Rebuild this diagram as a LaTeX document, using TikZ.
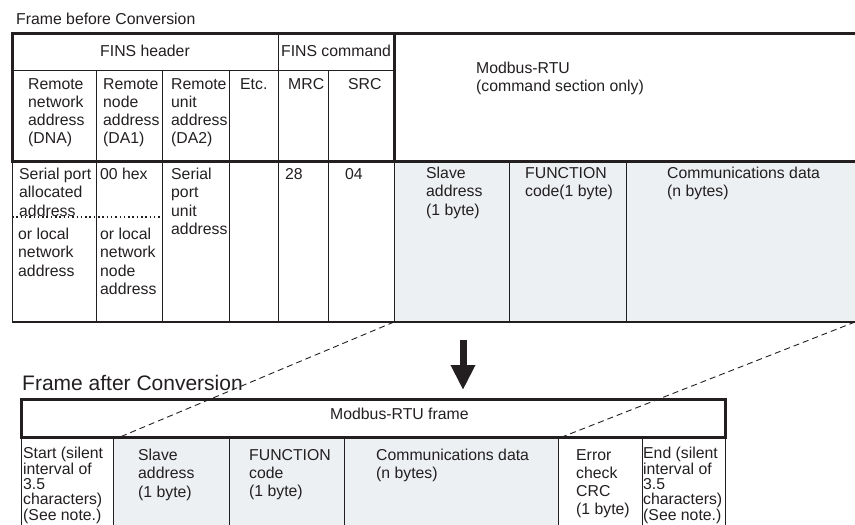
\documentclass[tikz,border=0pt]{standalone}
\usepackage{fontspec}
\setmainfont{Liberation Sans}
\usepackage{tikz}
\usetikzlibrary{arrows.meta}
\definecolor{inkline}{RGB}{35, 31, 32}
\definecolor{cellbg}{RGB}{237, 240, 242}
\tikzset{
  font=\fontsize{15.8}{18.2}\selectfont,
  thickrule/.style={draw=inkline, line width=3pt},
  midrule/.style={draw=inkline, line width=2pt},
  thinrule/.style={draw=inkline, line width=1pt},
  dotrule/.style={draw=inkline, line width=1.2pt, dash pattern=on 1.5pt off 2.8pt},
  mapline/.style={draw=inkline, line width=0.9pt, dash pattern=on 6pt off 4pt},
  cellfill/.style={fill=cellbg, draw=none},
  celltext/.style={anchor=north west, inner sep=0pt, align=left, text=inkline},
  tighttext/.style={celltext, font=\fontsize{15.8}{15.4}\selectfont},
  headtext/.style={anchor=center, inner sep=0pt, align=center, text=inkline},
  titletext/.style={anchor=north west, inner sep=0pt, text=inkline},
  bigarrow/.style={draw=inkline, line width=7pt, -{Triangle[width=23pt, length=25pt]}}
}

\begin{document}
\begin{tikzpicture}[x=1pt, y=-1pt, line join=miter]
  \useasboundingbox (0,0) rectangle (855,525);

  % Frame before conversion: fills and rules
  \fill[cellfill] (394,161) rectangle (855,322);
  \draw[thinrule] (12,70) -- (394,70);
  \foreach \x in {96,162,229,328}
    \draw[thinrule] (\x,70) -- (\x,322);
  \draw[thinrule] (278,33) -- (278,322);
  \foreach \x in {12,394,509,626}
    \draw[thinrule] (\x,161) -- (\x,322);
  \draw[dotrule] (12,217) -- (162,217);
  \draw[thickrule] (855,33) -- (12,33) -- (12,161) -- (855,161);
  \draw[thickrule] (394,33) -- (394,161);
  \draw[midrule] (12,322) -- (855,322);

  % Frame before conversion: texts
  \node[titletext] (toptitle) at (16,13) {Frame before Conversion};
  \node[headtext] (finshead) at (145,51) {FINS header};
  \node[headtext] (finscmd) at (336,51) {FINS command};
  \node[celltext] (dna) at (28,78) {Remote\\network\\address\\(DNA)};
  \node[celltext] (da1) at (103,78) {Remote\\node\\address\\(DA1)};
  \node[celltext] (da2) at (171,78) {Remote\\unit\\address\\(DA2)};
  \node[celltext] (etc) at (240,78) {Etc.};
  \node[celltext] (mrc) at (288,78) {MRC};
  \node[celltext] (src) at (348,78) {SRC};
  \node[celltext] (modcmd) at (476,62) {Modbus-RTU\\(command section only)};

  \node[celltext] (dnaval) at (19,168) {Serial port\\allocated\\address};
  \node[celltext] (dnaalt) at (18,228) {or local\\network\\address};
  \node[celltext] (da1val) at (100,168) {00 hex};
  \node[celltext] (da1alt) at (100,228) {or local\\network\\node\\address};
  \node[celltext] (da2val) at (171,168) {Serial\\port\\unit\\address};
  \node[celltext] (mrcval) at (285,168) {28};
  \node[celltext] (srcval) at (345,168) {04};
  \node[celltext] (slave) at (426,167) {Slave\\address\\(1 byte)};
  \node[celltext] (func) at (525,167) {FUNCTION\\code(1 byte)};
  \node[celltext] (data) at (667,167) {Communications data\\(n bytes)};

  % Conversion arrow
  \coordinate (arrtail) at (463,340);
  \coordinate (arrtip) at (463,390);
  \draw[bigarrow] (arrtail) -- (arrtip);

  % Frame after conversion: fills and rules
  \fill[cellfill] (113,437) rectangle (558,525);
  \foreach \x in {21,113,229,344,558,642,725}
    \draw[thinrule] (\x,437) -- (\x,525);
  \draw[thickrule] (21,399) rectangle (725,437);

  % Frame after conversion: texts
  \node[titletext, font=\fontsize{21}{24}\selectfont] (bottitle) at (22,375) {Frame after Conversion};
  \node[celltext] (rtuframe) at (330,408) {Modbus-RTU frame};
  \node[tighttext] (start) at (23,447) {Start (silent\\interval of\\3.5\\characters)\\(See note.)};
  \node[celltext] (slave2) at (138,449) {Slave\\address\\(1 byte)};
  \node[celltext] (func2) at (249,449) {FUNCTION\\code\\(1 byte)};
  \node[celltext] (data2) at (376,449) {Communications data\\(n bytes)};
  \node[celltext] (crc) at (576,449) {Error\\check\\CRC\\(1 byte)};
  \node[tighttext] (end) at (643,447) {End (silent\\interval of\\3.5\\characters)\\(See note.)};

  % Mapping lines between the frames
  \coordinate (srcleft) at (394,322);
  \coordinate (srcright) at (855,322);
  \coordinate (dstleft) at (120,437);
  \coordinate (dstright) at (562,437);
  \draw[mapline] (srcleft) -- (dstleft);
  \draw[mapline] (srcright) -- (dstright);

\end{tikzpicture}
\end{document}
